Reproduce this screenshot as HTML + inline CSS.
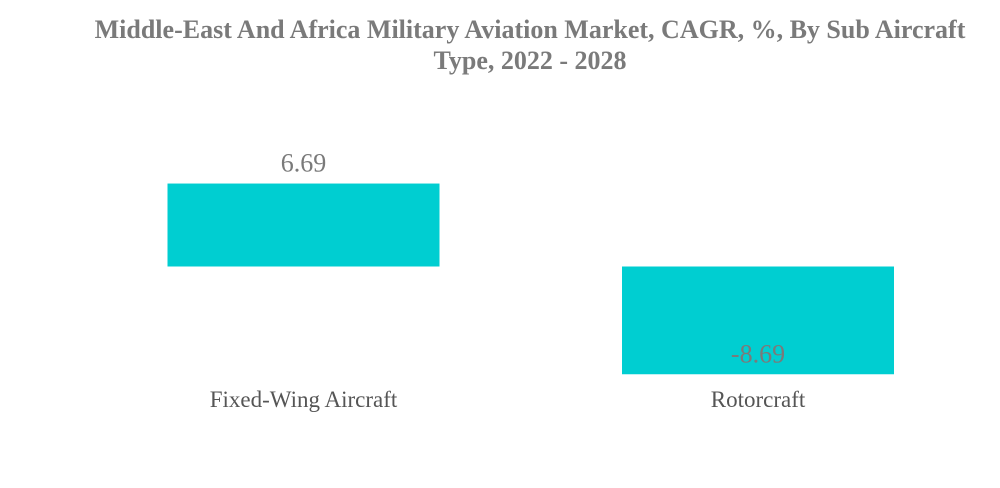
<!DOCTYPE html>
<html><head><meta charset="utf-8"><style>
body{margin:0;background:#fff;width:1000px;height:483px;overflow:hidden}
svg{font-family:"Liberation Serif",serif}
</style></head><body>
<svg width="1000" height="483">
<text x="530" y="38" text-anchor="middle" font-size="26" font-weight="bold" fill="#7a7a7a">Middle-East And Africa Military Aviation Market, CAGR, %, By Sub Aircraft</text>
<text x="530" y="69" text-anchor="middle" font-size="26" font-weight="bold" fill="#7a7a7a">Type, 2022 - 2028</text>
<g id="bars"></g>
</svg>
<script>
const categories=["Fixed-Wing Aircraft","Rotorcraft"];
const values=[6.69,-8.69];
const valueLabels=["6.69","-8.69"];
const zeroY=266.5, scale=12.4;
const y=v=>zeroY-v*scale;
const xc=i=>303.5+i*454.5;
const g=document.getElementById('bars');
const ns='http://www.w3.org/2000/svg';
values.forEach((v,i)=>{
  const r=document.createElementNS(ns,'rect');
  
  
  r.setAttribute('x',xc(i)-136);r.setAttribute('width',272);
  r.setAttribute('y',Math.min(y(v),zeroY));r.setAttribute('height',Math.abs(v)*scale);
  r.setAttribute('fill','#00ced1');g.appendChild(r);
  const t=document.createElementNS(ns,'text');
  
  
  t.setAttribute('x',xc(i));t.setAttribute('text-anchor','middle');t.setAttribute('font-size','26');t.setAttribute('fill','#7a7a7a');
  t.setAttribute('y',y(v)-12);
  t.textContent=valueLabels[i];g.appendChild(t);
  const c=document.createElementNS(ns,'text');
  
  
  c.setAttribute('x',xc(i));c.setAttribute('y',407);c.setAttribute('text-anchor','middle');c.setAttribute('font-size','23');c.setAttribute('fill','#555');
  c.textContent=categories[i];g.appendChild(c);
});
</script>
</body></html>
